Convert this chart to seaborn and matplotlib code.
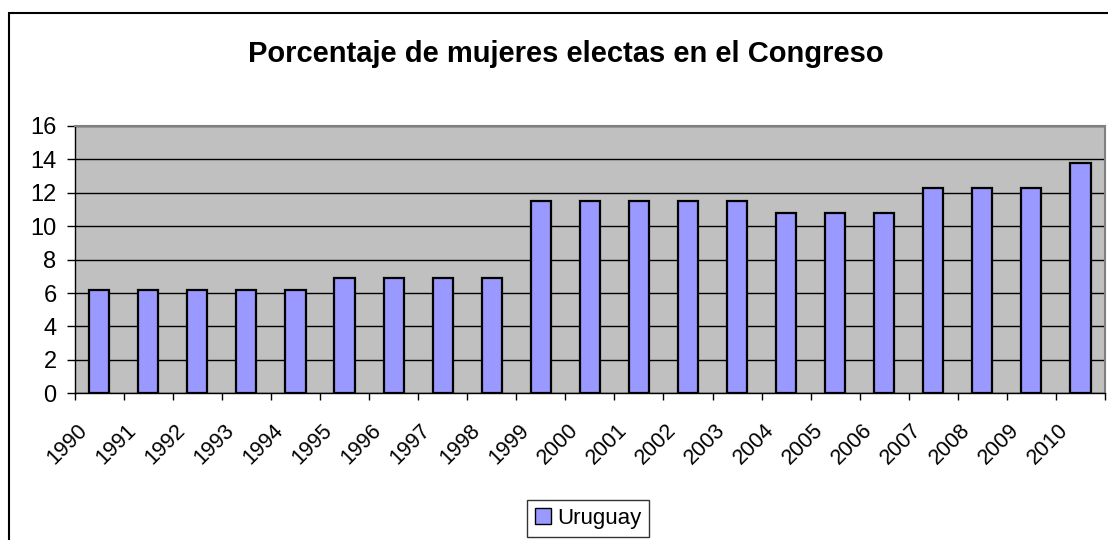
import numpy as np
import pandas as pd
import matplotlib
matplotlib.use("Agg")
import matplotlib.pyplot as plt
import matplotlib.transforms as mtransforms
import seaborn as sns
from matplotlib.patches import Patch, Rectangle

# --- DATA ---
years = [str(y) for y in range(1990, 2011)]
uruguay = [6.2, 6.2, 6.2, 6.2, 6.2,
           6.9, 6.9, 6.9, 6.9,
           11.5, 11.5, 11.5, 11.5, 11.5,
           10.8, 10.8, 10.8,
           12.3, 12.3, 12.3,
           13.8]
y_ticks = [0, 2, 4, 6, 8, 10, 12, 14, 16]
title = "Porcentaje de mujeres electas en el Congreso"
series_name = "Uruguay"

BAR_COLOR = "#9999FF"
PLOT_BG = "#C0C0C0"

sns.set_style("white")
plt.rcParams["font.family"] = ["Liberation Sans", "DejaVu Sans"]
plt.rcParams["text.color"] = "black"
plt.rcParams["xtick.color"] = "black"
plt.rcParams["ytick.color"] = "black"

df = pd.DataFrame({"year": years, "value": uruguay})

fig = plt.figure(figsize=(11.08, 5.40), dpi=100)
ax = fig.add_axes([0.0674, 0.2717, 0.9299, 0.4950])

sns.barplot(data=df, x="year", y="value", ax=ax, color=BAR_COLOR,
            width=0.41, edgecolor="black", linewidth=1.6, saturation=1)

ax.set_facecolor(PLOT_BG)
ax.set_xlim(-0.5, len(years) - 0.5)
ax.set_ylim(0, 16)
ax.set_yticks(y_ticks)
ax.yaxis.grid(True, color="black", linewidth=1)
ax.set_axisbelow(True)
ax.set_xlabel("")
ax.set_ylabel("")

for side in ["top", "right"]:
    ax.spines[side].set_color("#808080")
    ax.spines[side].set_linewidth(1.5)
for side in ["left", "bottom"]:
    ax.spines[side].set_color("black")
    ax.spines[side].set_linewidth(1)

ax.tick_params(axis="y", direction="out", length=6, width=1, labelsize=17, pad=7, left=True)
ax.set_xticks(np.arange(len(years)))
ax.set_xticklabels(years, rotation=45, ha="right", va="center",
                   rotation_mode="anchor", fontsize=15.5)
ax.tick_params(axis="x", which="major", length=0, pad=0)
ax.set_xticks(np.arange(-0.5, len(years)), minor=True)
ax.tick_params(axis="x", which="minor", direction="out", length=5, width=1, bottom=True)

# Excel-style placement: label ends left of and below the category centre
shift = mtransforms.ScaledTranslation(-0.15, -0.34, fig.dpi_scale_trans)
for lbl in ax.get_xticklabels():
    lbl.set_transform(lbl.get_transform() + shift)

fig.text(0.511, 1 - 61.7 / 540, title, ha="center", va="baseline",
         fontsize=21, fontweight="bold")

handles = [Patch(facecolor=BAR_COLOR, edgecolor="black", label=series_name)]
leg = fig.legend(handles=handles, loc="center", bbox_to_anchor=(0.531, 0.04),
                 fontsize=16, frameon=True, fancybox=False, handlelength=0.7,
                 handleheight=0.7, handletextpad=0.3, borderpad=0.35)
leg.get_frame().set_edgecolor("black")
leg.get_frame().set_linewidth(1)

# outer chart frame (right/bottom edges fall outside the image)
fig.patches.append(Rectangle((9 / 1108, -0.05), 1.1, (540 - 13) / 540 + 0.05,
                             transform=fig.transFigure, fill=False,
                             edgecolor="black", linewidth=1.5))

fig.savefig("out.png", dpi=100)
